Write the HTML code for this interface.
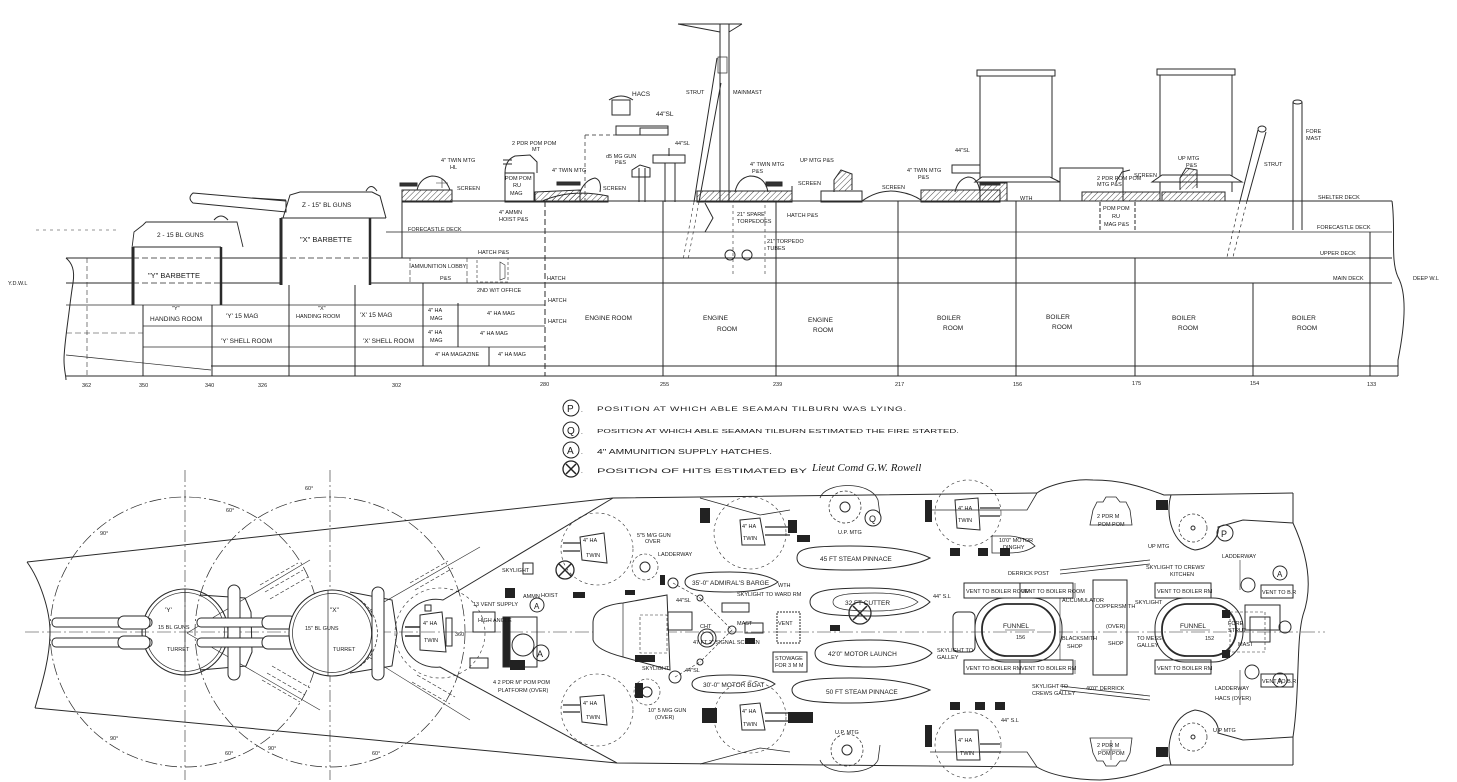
<!DOCTYPE html>
<html><head><meta charset="utf-8"><style>
html,body{margin:0;padding:0;background:#fff;}
svg{display:block;}
text{font-family:"Liberation Sans",sans-serif;fill:#1a1a1a;stroke:none;}
.s{font-size:5.5px;}
.m{font-size:6.5px;}
.l{font-size:7.5px;}
.g{font-size:9px;}
</style></head><body>
<svg width="1457" height="782" viewBox="0 0 1457 782" xmlns="http://www.w3.org/2000/svg">
<defs>
<pattern id="h" width="4" height="4" patternUnits="userSpaceOnUse" patternTransform="rotate(45)"><line x1="0" y1="0" x2="0" y2="4" stroke="#333" stroke-width="0.9"/></pattern>
</defs>
<rect width="1457" height="782" fill="#fff"/>

<!-- ================= ELEVATION ================= -->
<g stroke="#2a2a2a" stroke-width="1" fill="none">
<!-- decks -->
<path d="M402 201 H1392"/>
<path d="M402 232 H1392" stroke-width="0.8"/>
<path d="M66 258 H133 M221 258 H281 M370 258 H1392"/>
<path d="M133 258 H221 M281 258 H370" stroke-dasharray="6 3" stroke-width="0.7"/>
<path d="M66 283 H133 M221 283 H281 M370 283 H1392"/>
<path d="M133 283 H221" stroke-dasharray="6 3" stroke-width="0.7"/>
<path d="M66 305 H545" stroke-width="0.8"/>
<path d="M143 326 H545" stroke-width="0.7"/>
<path d="M143 347 H545" stroke-width="0.7"/>
<path d="M66 333 H143" stroke-width="0.6" stroke-dasharray="6 3"/>
<path d="M66 355 L211 370" stroke-width="0.7"/>
<path d="M211 366 H1398"/>
<path d="M66 376 H1398"/>
<!-- stern wavy edge -->
<path d="M66 258 C72 263 75 270 73 283 C71 295 70 305 68 320 C66 335 64 350 64 360 C64 370 66 376 66 380"/>
<!-- bow break -->
<path d="M1392 201 C1396 230 1390 260 1398 277 C1408 295 1404 330 1398 360 L1398 376"/>
<path d="M1370 232 V376"/>
<!-- verticals -->
<path d="M87 258 V376" stroke-dasharray="5 3" stroke-width="0.6"/>
<path d="M143 305 V376"/>
<path d="M212 305 V376"/>
<path d="M289 285 V376"/>
<path d="M355 285 V376"/>
<path d="M402 201 V258"/>
<path d="M423 283 V366"/>
<path d="M458 303 V347"/>
<path d="M489 347 V366"/>
<path d="M545 201 V376" stroke-dasharray="6 3"/>
<path d="M663 201 V376"/>
<path d="M776 201 V376"/>
<path d="M898 201 V376"/>
<path d="M1016 201 V376"/>
<path d="M1135 258 V376"/>
<path d="M1253 283 V376"/>
<!-- Y barbette -->
<path d="M133 247 V305" stroke-width="3"/>
<path d="M221 247 V305" stroke-width="2.5"/>
<path d="M133 247 H221"/>
<path d="M132 248 L134 232 L143 225 L146 222 H237 L243 247" stroke-width="0.9"/>
<path d="M214 220 Q221 212 228 220" />
<path d="M36 230 H118" stroke-dasharray="3 4" stroke-width="0.5"/>
<!-- X barbette -->
<path d="M281 218 V285" stroke-width="3"/>
<path d="M370 218 V285" stroke-width="2.5"/>
<path d="M281 218 H386"/>
<path d="M283 218 L290 195 L300 192 H372 L380 196 L386 218"/>
<path d="M366 191 Q371 182 377 191"/>
<path d="M193 193 L286 201 L286 212 L193 203 Q187 198 193 193 Z"/>
<path d="M252 198 L286 200"/>
<path d="M386 232 H402" stroke-width="0.8"/>
<!-- superstructure aft -->
<rect x="402" y="190" width="50" height="12" fill="url(#h)"/>
<path d="M400 183 H417 V186 H400 Z" fill="#333"/>
<path d="M417 190 Q420 178 432 176 Q445 176 450 190"/>
<path d="M436 183 H448 M442 179 V188" stroke-width="0.6"/>
<rect x="505" y="173" width="29" height="29"/>
<path d="M505 173 Q505 160 515 156 L530 155 L537 162 L537 173"/>
<path d="M503 160 H512 M503 164 H512"/>
<path d="M535 202 L535 192 L580 190 L580 202 Z" fill="url(#h)"/>
<path d="M540 202 Q570 188 608 196 L608 202 Z" fill="url(#h)"/>
<path d="M557 182 H580 V185 H557 Z" fill="#333"/>
<path d="M580 192 Q585 180 595 178 Q602 180 600 192"/>
<path d="M585 135 V202" stroke-dasharray="4 3" stroke-width="0.7"/>
<path d="M585 135 H616" stroke-dasharray="4 3" stroke-width="0.7"/>
<rect x="612" y="100" width="18" height="15"/>
<path d="M609 100 Q621 92 633 100"/>
<rect x="616" y="126" width="52" height="9"/>
<rect x="640" y="128" width="28" height="7"/>
<path d="M639 168 V202 M645 168 V202"/>
<path d="M632 170 L640 165 L650 168 L650 177 L632 177 Z"/>
<rect x="653" y="155" width="32" height="8"/>
<path d="M665 163 V202 M675 163 V202"/>
<path d="M669 148 V156"/>
<!-- mainmast -->
<path d="M720 24 V201 M729 24 V201"/>
<path d="M678 24 H742 M678 24 L720 32 M742 24 L729 32"/>
<rect x="718" y="57" width="9" height="16" stroke-width="0.7"/>
<path d="M717 58 L694 202 M721 83 L699 202"/>
<path d="M694 202 L683 260 M699 202 L688 260" stroke-dasharray="3 3" stroke-width="0.6"/>
<!-- midship guns -->
<rect x="697" y="191" width="95" height="11" fill="url(#h)"/>
<path d="M735 192 Q738 178 750 176 Q765 176 768 192"/>
<path d="M766 182 H782 V186 H766 Z" fill="#333"/>
<path d="M792 186 V202"/>
<rect x="821" y="191" width="41" height="11"/>
<path d="M834 192 V180 L841 170 L852 174 L852 190" fill="url(#h)"/>
<path d="M862 201 Q880 188 900 192 Q912 194 921 200"/>
<rect x="921" y="190" width="79" height="12" fill="url(#h)"/>
<path d="M955 192 Q958 179 968 177 Q978 177 980 192"/>
<path d="M980 181 H1000 V185 H980 Z" fill="#333"/>
<rect x="952" y="165" width="28" height="8"/>
<!-- torpedo tubes -->
<circle cx="730" cy="255" r="5"/><circle cx="747" cy="255" r="5"/>
<path d="M733 205 V275 M765 205 V275" stroke-dasharray="3 3" stroke-width="0.6"/>
<path d="M705 203 L713 218 L705 232"/>
<!-- funnel 1 -->
<rect x="977" y="70" width="78" height="6" fill="#fff"/>
<path d="M980 76 V201 M1052 76 V182"/>
<path d="M982 177 L1050 177 L1060 182 L975 182 Z" fill="#fff"/>
<rect x="980" y="183" width="27" height="18" fill="url(#h)"/>
<!-- midships box -->
<rect x="1060" y="168" width="63" height="33"/>
<rect x="1082" y="192" width="78" height="9" fill="url(#h)"/>
<rect x="1162" y="192" width="63" height="9" fill="url(#h)"/>
<path d="M1100 202 V230 M1135 202 V230" stroke-dasharray="4 2"/>
<path d="M1116 182 L1122 172 L1130 170" />
<!-- funnel 2 -->
<rect x="1157" y="69" width="78" height="6" fill="#fff"/>
<path d="M1160 75 V192 M1232 75 V192"/>
<path d="M1162 175 L1230 175 L1242 182 L1152 182 Z" fill="#fff"/>
<path d="M1180 190 V178 L1186 168 L1197 170 L1197 188" fill="url(#h)"/>
<!-- fore strut and mast -->
<path d="M1258 130 L1240 201 M1266 132 L1247 201"/>
<path d="M1240 201 L1227 257 M1247 201 L1233 257" stroke-dasharray="3 3" stroke-width="0.7"/>
<ellipse cx="1262" cy="129" rx="4" ry="3"/>
<path d="M1293 102 V230 M1302 102 V230"/>
<ellipse cx="1297.5" cy="102" rx="4.5" ry="2"/>
<!-- watertight stuff -->
<rect x="410" y="258" width="57" height="25" stroke-width="0.6" stroke-dasharray="5 2"/>
<rect x="477" y="258" width="31" height="24" stroke-dasharray="3 2" stroke-width="0.6"/>
<path d="M500 262 V280 L505 278 V265 Z" stroke-width="0.6"/>
<path d="M458 283 H545" stroke-width="0.6"/>
</g>

<!-- elevation text -->
<g>
<text class="m" x="157" y="237">2 - 15 BL GUNS</text>
<text class="l" x="148" y="278">&quot;Y&quot; BARBETTE</text>
<text class="m" x="302" y="207">Z - 15&quot; BL GUNS</text>
<text class="l" x="300" y="242">&quot;X&quot; BARBETTE</text>
<text class="s" x="172" y="310">&quot;Y&quot;</text>
<text class="m" x="150" y="321">HANDING ROOM</text>
<text class="m" x="226" y="318">'Y' 15 MAG</text>
<text class="s" x="318" y="310">&quot;X&quot;</text>
<text class="s" x="296" y="318">HANDING ROOM</text>
<text class="m" x="360" y="317">'X' 15 MAG</text>
<text class="m" x="221" y="343">'Y' SHELL ROOM</text>
<text class="m" x="363" y="343">'X' SHELL ROOM</text>
<text class="s" x="428" y="312">4&quot; HA</text><text class="s" x="430" y="320">MAG</text>
<text class="s" x="487" y="315">4&quot; HA MAG</text>
<text class="s" x="428" y="334">4&quot; HA</text><text class="s" x="430" y="342">MAG</text>
<text class="s" x="480" y="335">4&quot; HA MAG</text>
<text class="s" x="435" y="356">4&quot; HA MAGAZINE</text>
<text class="s" x="498" y="356">4&quot; HA MAG</text>
<text class="s" x="411" y="268">AMMUNITION LOBBY</text>
<text class="s" x="440" y="280">P&amp;S</text>
<text class="s" x="478" y="254">HATCH P&amp;S</text>
<text class="s" x="477" y="292">2ND W/T OFFICE</text>
<text class="s" x="408" y="231">FORECASTLE DECK</text>
<text class="s" x="499" y="214">4&quot; AMMN</text><text class="s" x="499" y="221">HOIST P&amp;S</text>
<text class="s" x="505" y="180">POM POM</text><text class="s" x="513" y="187">RU</text><text class="s" x="510" y="195">MAG</text>
<text class="s" x="512" y="145">2 PDR POM POM</text><text class="s" x="532" y="151">MT</text>
<text class="s" x="441" y="162">4&quot; TWIN MTG</text><text class="s" x="450" y="169">HL</text>
<text class="s" x="457" y="190">SCREEN</text>
<text class="s" x="552" y="172">4&quot; TWIN MTG</text>
<text class="s" x="603" y="190">SCREEN</text>
<text class="s" x="606" y="158">d5 MG GUN</text><text class="s" x="615" y="164">P&amp;S</text>
<text class="m" x="632" y="96">HACS</text>
<text class="m" x="656" y="116">44&quot;SL</text>
<text class="s" x="675" y="145">44&quot;SL</text>
<text class="s" x="686" y="94">STRUT</text>
<text class="s" x="733" y="94">MAINMAST</text>
<text class="s" x="750" y="166">4&quot; TWIN MTG</text><text class="s" x="752" y="173">P&amp;S</text>
<text class="s" x="800" y="162">UP MTG P&amp;S</text>
<text class="s" x="798" y="185">SCREEN</text>
<text class="s" x="882" y="189">SCREEN</text>
<text class="s" x="907" y="172">4&quot; TWIN MTG</text><text class="s" x="918" y="179">P&amp;S</text>
<text class="s" x="955" y="152">44&quot;SL</text>
<text class="s" x="737" y="216">21&quot; SPARE</text><text class="s" x="737" y="223">TORPEDOES</text>
<text class="s" x="787" y="217">HATCH P&amp;S</text>
<text class="s" x="767" y="243">21&quot; TORPEDO</text><text class="s" x="767" y="250">TUBES</text>
<text class="s" x="1020" y="200">WTH</text>
<text class="s" x="1097" y="180">2 PDR POM POM</text><text class="s" x="1097" y="186">MTG P&amp;S</text>
<text class="s" x="1134" y="177">SCREEN</text>
<text class="s" x="1178" y="160">UP MTG</text><text class="s" x="1186" y="167">P&amp;S</text>
<text class="s" x="1264" y="166">STRUT</text>
<text class="s" x="1306" y="133">FORE</text><text class="s" x="1306" y="140">MAST</text>
<text class="s" x="1103" y="210">POM POM</text><text class="s" x="1112" y="218">RU</text><text class="s" x="1104" y="226">MAG P&amp;S</text>
<text class="s" x="1318" y="199">SHELTER DECK</text>
<text class="s" x="1317" y="229">FORECASTLE DECK</text>
<text class="s" x="1320" y="255">UPPER DECK</text>
<text class="s" x="1333" y="280">MAIN DECK</text>
<text class="s" x="1413" y="280">DEEP W.L</text>
<text class="s" x="8" y="285">Y.D.W.L</text>
<text class="s" x="547" y="280">HATCH</text>
<text class="s" x="548" y="302">HATCH</text>
<text class="s" x="548" y="323">HATCH</text>
<text class="m" x="585" y="320">ENGINE ROOM</text>
<text class="m" x="703" y="320">ENGINE</text><text class="m" x="717" y="331">ROOM</text>
<text class="m" x="808" y="322">ENGINE</text><text class="m" x="813" y="332">ROOM</text>
<text class="m" x="937" y="320">BOILER</text><text class="m" x="943" y="330">ROOM</text>
<text class="m" x="1046" y="319">BOILER</text><text class="m" x="1052" y="329">ROOM</text>
<text class="m" x="1172" y="320">BOILER</text><text class="m" x="1178" y="330">ROOM</text>
<text class="m" x="1292" y="320">BOILER</text><text class="m" x="1297" y="330">ROOM</text>
<g class="s">
<text class="s" x="82" y="387">362</text>
<text class="s" x="139" y="387">350</text>
<text class="s" x="205" y="387">340</text>
<text class="s" x="258" y="387">326</text>
<text class="s" x="392" y="387">302</text>
<text class="s" x="540" y="386">280</text>
<text class="s" x="660" y="386">255</text>
<text class="s" x="773" y="386">239</text>
<text class="s" x="895" y="386">217</text>
<text class="s" x="1013" y="386">156</text>
<text class="s" x="1132" y="385">175</text>
<text class="s" x="1250" y="385">154</text>
<text class="s" x="1367" y="386">133</text>
</g>
</g>

<!-- ================= LEGEND ================= -->
<g stroke="#222" fill="none" stroke-width="1">
<circle cx="571" cy="408" r="8"/>
<circle cx="571" cy="430" r="8"/>
<circle cx="571" cy="450" r="8"/>
<circle cx="571" cy="469" r="8" stroke-width="1.3"/>
<path d="M566 464 L576 474 M576 464 L566 474" stroke-width="1.5"/>
</g>
<g>
<text x="567" y="412" style="font-size:10px">P</text>
<text x="567" y="434" style="font-size:10px">Q</text>
<text x="567" y="454" style="font-size:10px">A</text>
<text x="581" y="412" class="m">.</text><text x="581" y="434" class="m">.</text><text x="581" y="454" class="m">.</text><text x="581" y="473" class="m">.</text>
<text x="597" y="411" style="font-size:6.5px;letter-spacing:0.5px" textLength="310" lengthAdjust="spacingAndGlyphs">POSITION AT WHICH ABLE SEAMAN TILBURN WAS LYING.</text>
<text x="597" y="433" style="font-size:5.5px" textLength="362" lengthAdjust="spacingAndGlyphs">POSITION AT WHICH ABLE SEAMAN TILBURN ESTIMATED THE FIRE STARTED.</text>
<text x="597" y="454" style="font-size:7px" textLength="175" lengthAdjust="spacingAndGlyphs">4&quot; AMMUNITION SUPPLY HATCHES.</text>
<text x="597" y="473" style="font-size:6.5px" textLength="210" lengthAdjust="spacingAndGlyphs">POSITION OF HITS ESTIMATED BY</text>
<text x="812" y="471" style="font-size:11px;font-family:'Liberation Serif',serif;font-style:italic">Lieut Comd G.W. Rowell</text>
</g>

<!-- ================= PLAN ================= -->
<g stroke="#2a2a2a" stroke-width="1" fill="none">
<!-- midline -->
<path d="M25 632 H1325" stroke-dasharray="14 3 2 3" stroke-width="0.6"/>
<!-- hull -->
<path d="M27 562 L613 498 L1037 493"/>
<path d="M35 708 L617 763 L1037 767"/>
<path d="M27 562 C40 580 50 610 50 632 C50 660 40 690 35 708"/>
<path d="M1037 493 C1045 487 1070 478 1093 480 C1120 480 1140 486 1164 495 L1293 493"/>
<path d="M1171 495 C1165 515 1172 545 1195 550 C1212 548 1220 535 1218 527 L1243 520 L1293 523"/>
<path d="M1037 767 C1050 775 1075 780 1100 780 C1125 779 1145 772 1164 765 L1293 765"/>
<path d="M1171 765 C1165 745 1172 715 1195 710 C1212 712 1220 725 1218 733 L1243 740 L1293 737"/>
<path d="M1293 493 V523 C1310 560 1312 590 1303 615 C1296 640 1300 690 1293 737 V765"/>
<!-- shelter deck nose -->
<path d="M613 498 L443 600 A34 34 0 1 0 440 667 L617 763"/>
<path d="M700 498 L760 515 L790 510 M700 764 L760 748 L790 752" stroke-width="0.8"/>
<path d="M930 510 L1027 510 L1037 493 M930 752 L1027 752 L1037 767" stroke-width="0.8"/>
<!-- turret arcs -->
<circle cx="185" cy="632" r="135" stroke-dasharray="12 3 2 3" stroke-width="0.7"/>
<circle cx="330" cy="632" r="135" stroke-dasharray="12 3 2 3" stroke-width="0.7"/>
<path d="M185 470 V780 M330 470 V780" stroke-dasharray="12 3 2 3" stroke-width="0.6"/>
<path d="M187 633 L310 560 M187 633 L320 710 M330 633 L480 547 M330 633 L470 720" stroke-width="0.6"/>
<path d="M260 585 L298 563 M265 592 L303 570 M270 599 L308 577 M262 680 L300 702 M267 673 L305 695 M272 666 L310 688" stroke-dasharray="4 2" stroke-width="0.6"/>
<path d="M410 583 L448 561 M415 590 L453 568 M412 682 L450 704 M417 675 L455 697" stroke-dasharray="4 2" stroke-width="0.6"/>
<!-- Y turret -->
<circle cx="185" cy="632" r="43" stroke-width="1.1"/>
<circle cx="185" cy="632" r="39.5" stroke-width="0.7"/>
<path d="M200 595 L245 598 L251 612 L252 652 L246 666 L200 670"/>
<rect x="228" y="585" width="12" height="95" rx="6" fill="#fff"/>
<rect x="52" y="618" width="100" height="9" rx="4" fill="#fff"/>
<rect x="52" y="638" width="100" height="9" rx="4" fill="#fff"/>
<rect x="118" y="616" width="32" height="13" rx="6" fill="#fff"/>
<rect x="118" y="636" width="32" height="13" rx="6" fill="#fff"/>
<path d="M185 589 V675" stroke-width="0.7"/>
<!-- X turret -->
<rect x="197" y="618" width="100" height="9" rx="4" fill="#fff"/>
<rect x="197" y="638" width="100" height="9" rx="4" fill="#fff"/>
<rect x="262" y="616" width="34" height="13" rx="6" fill="#fff"/>
<rect x="262" y="636" width="34" height="13" rx="6" fill="#fff"/>
<circle cx="332" cy="633" r="43" stroke-width="1.1" fill="#fff"/>
<circle cx="332" cy="633" r="39.5" stroke-width="0.7"/>
<path d="M350 592 L392 600 L397 633 L392 666 L350 673"/>
<rect x="372" y="587" width="12" height="93" rx="6" fill="#fff"/>
<path d="M328 590 V676" stroke-width="0.7"/>
<path d="M360 600 A40 40 0 0 1 360 666" stroke-dasharray="3 2" stroke-width="0.7"/>
<!-- nose 4in -->
<circle cx="440" cy="633" r="45" stroke-dasharray="3 3" stroke-width="0.6"/>
<path d="M420 615 L442 612 L446 652 L420 650 Z"/>
<rect x="446" y="618" width="6" height="28"/>
<path d="M405 627 H420 M405 636 H420" stroke-width="1.5"/>
<!-- 4in HA sponsons -->
<circle cx="597" cy="549" r="36" stroke-dasharray="3 3" stroke-width="0.6"/>
<circle cx="597" cy="710" r="36" stroke-dasharray="3 3" stroke-width="0.6"/>
<circle cx="750" cy="533" r="36" stroke-dasharray="3 3" stroke-width="0.6"/>
<circle cx="750" cy="717" r="36" stroke-dasharray="3 3" stroke-width="0.6"/>
<circle cx="968" cy="513" r="33" stroke-dasharray="3 3" stroke-width="0.6"/>
<circle cx="968" cy="745" r="33" stroke-dasharray="3 3" stroke-width="0.6"/>
<path d="M580 537 L604 533 L607 563 L582 560 Z"/>
<path d="M563 543 H580 M563 551 H580" stroke-width="1.3"/>
<path d="M580 697 L604 695 L607 725 L582 722 Z"/>
<path d="M563 705 H580 M563 712 H580" stroke-width="1.3"/>
<path d="M740 520 L760 518 L765 545 L742 545 Z"/>
<path d="M765 527 H790 M765 535 H790" stroke-width="1.3"/>
<path d="M740 705 L760 703 L765 730 L742 730 Z"/>
<path d="M765 713 H790 M765 721 H790" stroke-width="1.3"/>
<path d="M955 500 L978 498 L980 530 L957 528 Z"/>
<path d="M980 508 H1000 M980 516 H1000" stroke-width="1.3"/>
<path d="M955 730 L978 730 L980 760 L957 760 Z"/>
<path d="M980 744 H1000 M980 752 H1000" stroke-width="1.3"/>
<!-- UP MTGs -->
<circle cx="845" cy="507" r="16" stroke-dasharray="3 2" stroke-width="0.7"/><circle cx="845" cy="507" r="5"/>
<path d="M820 498 C825 482 870 480 878 500 L880 515" stroke-width="0.8"/>
<circle cx="847" cy="750" r="16" stroke-dasharray="3 2" stroke-width="0.7"/><circle cx="847" cy="750" r="5"/>
<path d="M820 760 C825 775 870 777 878 760 L880 745" stroke-width="0.8"/>
<circle cx="1193" cy="528" r="14" stroke-dasharray="3 2" stroke-width="0.7"/><circle cx="1193" cy="528" r="2"/>
<circle cx="1193" cy="737" r="14" stroke-dasharray="3 2" stroke-width="0.7"/><circle cx="1193" cy="737" r="2"/>
<!-- pom pom sponsons -->
<path d="M1093 510 L1097 502 L1103 502 L1106 497 L1116 497 L1120 502 L1126 502 L1130 510 L1132 525 L1090 525 Z" stroke-width="0.8"/>
<path d="M1093 753 L1097 761 L1103 761 L1106 766 L1116 766 L1120 761 L1126 761 L1130 753 L1132 738 L1090 738 Z" stroke-width="0.8"/>
<path d="M1111 740 V760 M1101 750 H1121" stroke-width="0.6"/>
<!-- P, Q, A, X marks -->
<circle cx="1225" cy="533" r="8"/>
<circle cx="873" cy="518" r="8"/>
<circle cx="537" cy="605" r="7"/>
<circle cx="541" cy="653" r="8"/>
<circle cx="1280" cy="573" r="7"/>
<circle cx="1280" cy="680" r="7"/>
<circle cx="565" cy="570" r="9" stroke-width="1.3"/>
<path d="M559 564 L571 576 M571 564 L559 576" stroke-width="1.5"/>
<circle cx="860" cy="613" r="11" stroke-width="1.3"/>
<path d="M853 606 L867 620 M867 606 L853 620" stroke-width="1.5"/>
<!-- boats -->
<path d="M797 558 C797 548 810 546 850 546 C885 546 915 550 930 558 C915 566 885 570 850 570 C810 570 797 568 797 558 Z"/>
<path d="M685 582 C685 574 700 572 730 572 C755 572 770 576 778 582 C770 588 755 592 730 592 C700 592 685 590 685 582 Z"/>
<path d="M810 602 C810 590 830 588 870 588 C905 588 922 594 930 602 C922 610 905 616 870 616 C830 616 810 614 810 602 Z"/>
<path d="M833 602 C833 595 845 593 875 593 C900 593 912 597 918 602 C912 607 900 611 875 611 C845 611 833 609 833 602 Z" stroke-width="0.7"/>
<path d="M815 653 C815 643 832 640 870 640 C905 640 925 646 932 653 C925 661 905 667 870 667 C832 667 815 664 815 653 Z"/>
<path d="M692 684 C692 677 705 675 730 675 C755 675 768 679 775 684 C768 689 755 693 730 693 C705 693 692 691 692 684 Z"/>
<path d="M792 690 C792 681 810 678 850 678 C890 678 915 684 930 690 C915 697 890 703 850 703 C810 703 792 700 792 690 Z"/>
<path d="M992 536 L1010 536 C1022 537 1030 541 1035 546 C1028 551 1020 553 1008 553 L992 553 Z" stroke-width="0.8"/>
<!-- central structures -->
<path d="M593 622 Q594 606 623 603 L667 595 L670 670 L623 657 Q596 650 593 640 Z" fill="#fff"/>
<path d="M623 603 V657" stroke-width="0.7"/>
<rect x="640" y="615" width="27" height="38" stroke-dasharray="3 2" stroke-width="0.6"/>
<rect x="503" y="617" width="34" height="50"/>
<rect x="503" y="617" width="7" height="50" fill="#222"/>
<circle cx="523" cy="645" r="11"/>
<circle cx="673" cy="583" r="5"/>
<circle cx="707" cy="638" r="6"/><circle cx="707" cy="638" r="9"/>
<circle cx="675" cy="677" r="6"/>
<circle cx="732" cy="630" r="4"/>
<circle cx="700" cy="598" r="3"/><circle cx="700" cy="662" r="3"/>
<circle cx="645" cy="567" r="5"/><circle cx="645" cy="567" r="13" stroke-dasharray="3 2" stroke-width="0.6"/>
<circle cx="647" cy="692" r="5"/><circle cx="647" cy="692" r="13" stroke-dasharray="3 2" stroke-width="0.6"/>
<path d="M700 598 L732 630 L700 662" stroke-dasharray="3 2" stroke-width="0.6"/>
<path d="M673 583 L700 598 M675 677 L700 662" stroke-dasharray="3 2" stroke-width="0.6"/>
<rect x="777" y="612" width="23" height="31" stroke-dasharray="2 1"/>
<rect x="773" y="652" width="34" height="20"/>
<rect x="745" y="623" width="18" height="10"/>
<rect x="722" y="603" width="27" height="9"/>
<rect x="668" y="612" width="24" height="18"/>
<rect x="473" y="612" width="22" height="20"/>
<rect x="523" y="563" width="10" height="11"/>
<rect x="470" y="658" width="18" height="10"/>
<rect x="425" y="605" width="6" height="6"/>
<!-- aft funnel region -->
<rect x="975" y="598" width="87" height="64" rx="30"/>
<rect x="982" y="604" width="73" height="52" rx="25" stroke-width="1.8"/>
<rect x="1155" y="598" width="88" height="64" rx="30"/>
<rect x="1162" y="604" width="74" height="52" rx="25" stroke-width="1.8"/>
<path d="M1005 630 H1035 M1180 630 H1210" stroke-width="0.6"/>
<rect x="964" y="583" width="56" height="15"/>
<rect x="1020" y="583" width="53" height="15"/>
<rect x="964" y="660" width="56" height="14"/>
<rect x="1020" y="660" width="53" height="14"/>
<rect x="1093" y="580" width="34" height="95"/>
<rect x="1155" y="583" width="56" height="15"/>
<rect x="1155" y="660" width="56" height="14"/>
<rect x="1261" y="585" width="32" height="13"/>
<rect x="1261" y="674" width="32" height="13"/>
<rect x="953" y="612" width="22" height="40" rx="5"/>
<path d="M1075 583 V598 M1075 660 V674 M1060 598 V660" stroke-width="0.6"/>
<path d="M1060 570 L1150 560 M1060 574 L1150 564" stroke-width="0.8"/>
<path d="M1060 686 L1150 696 M1060 690 L1150 700" stroke-width="0.8"/>
<rect x="1230" y="612" width="35" height="40" stroke-dasharray="3 2" stroke-width="0.6"/>
<rect x="1250" y="617" width="20" height="25"/>
<path d="M1240 560 V590 M1240 670 V705" stroke-width="0.6"/>
<circle cx="1285" cy="627" r="6"/>
<circle cx="1248" cy="585" r="7"/>
<circle cx="1252" cy="672" r="7"/>
<rect x="1245" y="605" width="35" height="25"/>
</g>
<!-- black filled bits in plan -->
<g fill="#222">
<rect x="700" y="508" width="10" height="15"/>
<rect x="788" y="520" width="9" height="13"/>
<rect x="797" y="535" width="13" height="7"/>
<rect x="702" y="708" width="15" height="15"/>
<rect x="788" y="712" width="25" height="11"/>
<rect x="573" y="592" width="12" height="6"/>
<rect x="635" y="683" width="8" height="15"/>
<rect x="660" y="575" width="5" height="10"/>
<rect x="505" y="588" width="10" height="10"/>
<rect x="510" y="660" width="15" height="10"/>
<rect x="625" y="590" width="10" height="5"/>
<rect x="635" y="655" width="20" height="7"/>
<rect x="925" y="500" width="7" height="22"/>
<rect x="925" y="725" width="7" height="22"/>
<rect x="1156" y="500" width="12" height="10"/>
<rect x="1156" y="747" width="12" height="10"/>
<rect x="950" y="548" width="10" height="8"/>
<rect x="978" y="548" width="10" height="8"/>
<rect x="1000" y="548" width="10" height="8"/>
<rect x="950" y="702" width="10" height="8"/>
<rect x="975" y="702" width="10" height="8"/>
<rect x="995" y="702" width="10" height="8"/>
<rect x="1222" y="610" width="8" height="8"/>
<rect x="1222" y="650" width="8" height="8"/>
<rect x="745" y="638" width="10" height="6"/>
<rect x="830" y="625" width="10" height="6"/>
</g>

<!-- plan text -->
<g>
<text class="s" x="305" y="490">60°</text>
<text class="s" x="100" y="535">90°</text>
<text class="s" x="226" y="512">60°</text>
<text class="s" x="110" y="740">90°</text>
<text class="s" x="225" y="755">60°</text>
<text class="s" x="268" y="750">90°</text>
<text class="s" x="372" y="755">60°</text>
<text class="m" x="165" y="612">'Y'</text>
<text class="s" x="158" y="629">15 BL GUNS</text>
<text class="s" x="167" y="651">TURRET</text>
<text class="m" x="330" y="612">&quot;X&quot;</text>
<text class="s" x="305" y="630">15&quot; BL GUNS</text>
<text class="s" x="333" y="651">TURRET</text>
<text class="s" x="423" y="625">4&quot; HA</text>
<text class="s" x="424" y="642">TWIN</text>
<text class="s" x="455" y="636">360</text>
<text class="s" x="583" y="542">4&quot; HA</text><text class="s" x="586" y="557">TWIN</text>
<text class="s" x="583" y="705">4&quot; HA</text><text class="s" x="586" y="719">TWIN</text>
<text class="s" x="742" y="528">4&quot; HA</text><text class="s" x="743" y="540">TWIN</text>
<text class="s" x="742" y="713">4&quot; HA</text><text class="s" x="743" y="726">TWIN</text>
<text class="s" x="958" y="510">4&quot; HA</text><text class="s" x="958" y="522">TWIN</text>
<text class="s" x="958" y="742">4&quot; HA</text><text class="s" x="960" y="755">TWIN</text>
<text class="s" x="637" y="537">5&quot;5 M/G GUN</text><text class="s" x="645" y="543">OVER</text>
<text class="s" x="658" y="556">LADDERWAY</text>
<text class="m" x="692" y="585">35'-0&quot; ADMIRAL'S BARGE</text>
<text class="m" x="820" y="561">45 FT STEAM PINNACE</text>
<text class="m" x="845" y="605">32 FT CUTTER</text>
<text class="m" x="828" y="656">42'0&quot; MOTOR LAUNCH</text>
<text class="m" x="703" y="687">30'-0&quot; MOTOR BOAT</text>
<text class="m" x="826" y="694">50 FT STEAM PINNACE</text>
<text class="s" x="778" y="587">WTH</text>
<text class="s" x="737" y="596">SKYLIGHT TO WARD RM</text>
<text class="s" x="676" y="602">44&quot;SL</text>
<text class="s" x="693" y="644">47 FT 2&quot; SIGNAL SCREEN</text>
<text class="s" x="685" y="672">44&quot;SL</text>
<text class="s" x="737" y="625">MAST</text>
<text class="s" x="778" y="625">VENT</text>
<text class="s" x="775" y="660">STOWAGE</text><text class="s" x="775" y="667">FOR 3 M M</text>
<text class="s" x="700" y="628">CHT</text>
<text class="s" x="473" y="606">13 VENT SUPPLY</text>
<text class="s" x="478" y="622">HIGH ANGLE</text>
<text class="s" x="502" y="572">SKYLIGHT</text>
<text class="s" x="523" y="598">AMMN</text><text class="s" x="541" y="597">HOIST</text>
<text class="s" x="493" y="684">4 2 PDR M&quot; POM POM</text>
<text class="s" x="498" y="692">PLATFORM (OVER)</text>
<text class="s" x="648" y="712">10&quot; 5 M/G GUN</text><text class="s" x="655" y="719">(OVER)</text>
<text class="s" x="642" y="670">SKYLIGHT</text>
<text class="s" x="838" y="534">U.P. MTG</text>
<text class="s" x="835" y="734">U.P. MTG</text>
<text class="s" x="999" y="542">10'0&quot; MOTOR</text><text class="s" x="1003" y="549">DINGHY</text>
<text class="m" x="1003" y="628">FUNNEL</text>
<text class="s" x="1016" y="639">156</text>
<text class="m" x="1180" y="628">FUNNEL</text>
<text class="s" x="1205" y="640">152</text>
<text class="s" x="966" y="593">VENT TO BOILER ROOM</text>
<text class="s" x="1021" y="593">VENT TO BOILER ROOM</text>
<text class="s" x="966" y="670">VENT TO BOILER RM</text>
<text class="s" x="1021" y="670">VENT TO BOILER RM</text>
<text class="s" x="1157" y="593">VENT TO BOILER RM</text>
<text class="s" x="1157" y="670">VENT TO BOILER RM</text>
<text class="s" x="1095" y="608">COPPERSMITH</text>
<text class="s" x="1106" y="628">(OVER)</text>
<text class="s" x="1108" y="645">SHOP</text>
<text class="s" x="1062" y="640">BLACKSMITH</text><text class="s" x="1067" y="648">SHOP</text>
<text class="s" x="1062" y="602">ACCUMULATOR</text>
<text class="s" x="1086" y="690">40'0&quot; DERRICK</text>
<text class="s" x="1008" y="575">DERRICK POST</text>
<text class="s" x="1146" y="569">SKYLIGHT TO CREWS'</text><text class="s" x="1170" y="576">KITCHEN</text>
<text class="s" x="1097" y="518">2 PDR M</text><text class="s" x="1098" y="526">POM POM</text>
<text class="s" x="1097" y="747">2 PDR M</text><text class="s" x="1098" y="755">POM POM</text>
<text class="s" x="1148" y="548">UP MTG</text>
<text class="s" x="1213" y="732">U.P MTG</text>
<text class="s" x="1262" y="594">VENT TO B.R</text>
<text class="s" x="1262" y="683">VENT TO B.R</text>
<text class="s" x="1228" y="625">FORE</text><text class="s" x="1228" y="632">STRUT</text>
<text class="s" x="1238" y="646">MAST</text>
<text class="s" x="1215" y="700">HACS (OVER)</text>
<text class="s" x="1215" y="690">LADDERWAY</text>
<text class="s" x="1222" y="558">LADDERWAY</text>
<text class="s" x="1001" y="722">44&quot; S.L</text>
<text class="s" x="933" y="598">44&quot; S.L</text>
<text class="s" x="1032" y="688">SKYLIGHT TO</text><text class="s" x="1032" y="695">CREWS GALLEY</text>
<text class="s" x="1135" y="604">SKYLIGHT</text>
<text class="s" x="1137" y="640">TO MESS</text><text class="s" x="1137" y="647">GALLEY</text>
<text class="s" x="937" y="652">SKYLIGHT TO</text><text class="s" x="937" y="659">GALLEY</text>
</g>
<g>
<text x="1221" y="537" style="font-size:9px">P</text>
<text x="869" y="522" style="font-size:9px">Q</text>
<text x="534" y="609" style="font-size:8px">A</text>
<text x="537" y="657" style="font-size:9px">A</text>
<text x="1277" y="577" style="font-size:8px">A</text>
<text x="1277" y="684" style="font-size:8px">A</text>
</g>
</svg>
</body></html>
